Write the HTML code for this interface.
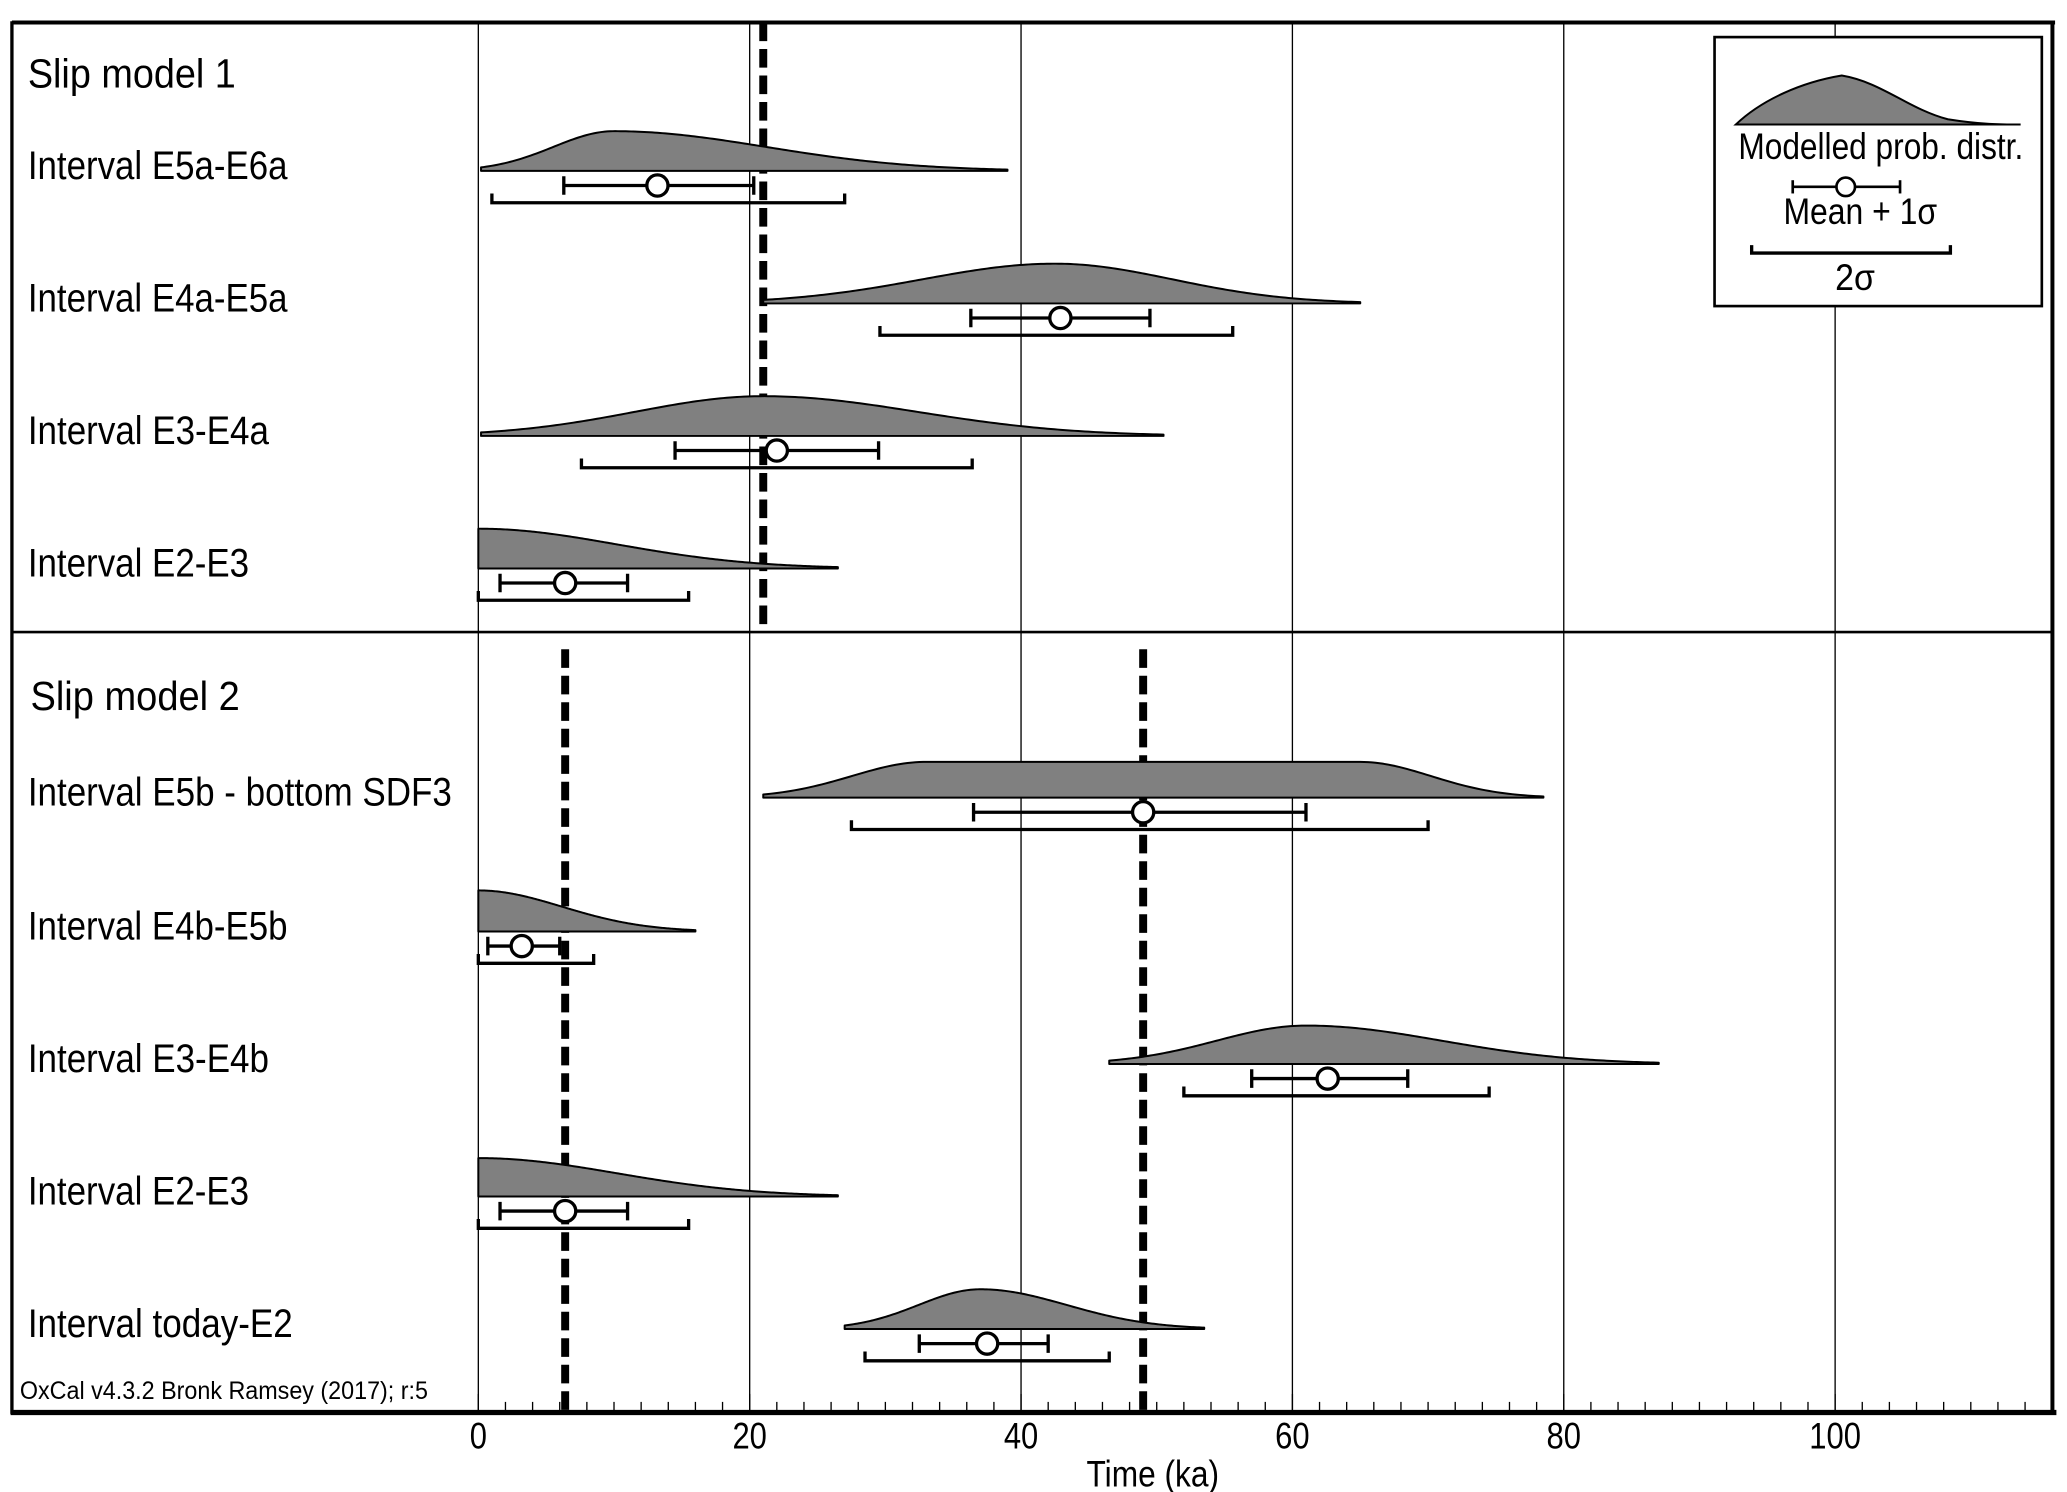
<!DOCTYPE html>
<html><head><meta charset="utf-8">
<style>
html,body{margin:0;padding:0;background:#fff;}
svg{display:block;}
text{font-family:"Liberation Sans Narrow","Liberation Sans",sans-serif;fill:#000;}
</style></head>
<body>
<svg id="chart" xmlns="http://www.w3.org/2000/svg" width="2067" height="1492" viewBox="0 0 1560 1126" preserveAspectRatio="none">
<rect x="0" y="0" width="1560" height="1126" fill="#fff"/>
<g id="grid"></g>
<g id="dash"></g>
<g id="rows"></g>
<g id="axis"></g>
<g id="legend">
  <rect x="1294" y="28" width="247" height="203" fill="#fff" stroke="#000" stroke-width="2"/>
  <path d="M1310,94 C1330,75 1360,62 1390,57 C1420,62 1440,82 1470,90 C1495,94 1510,94 1525,94 Z" fill="#808080" stroke="#000" stroke-width="1.5"/>
  <text x="1312" y="120" font-size="28" textLength="215" lengthAdjust="spacingAndGlyphs">Modelled prob. distr.</text>
  <g>
    <line x1="1353" y1="141" x2="1434" y2="141" stroke="#000" stroke-width="2"/>
    <line x1="1353" y1="136" x2="1353" y2="146" stroke="#000" stroke-width="2"/>
    <line x1="1434" y1="136" x2="1434" y2="146" stroke="#000" stroke-width="2"/>
    <circle cx="1393" cy="141" r="7" fill="#fff" stroke="#000" stroke-width="2"/>
  </g>
  <text x="1346" y="169" font-size="28" textLength="116" lengthAdjust="spacingAndGlyphs">Mean + 1σ</text>
  <path d="M1322,185 L1322,191 L1472,191 L1472,185" fill="none" stroke="#000" stroke-width="2.5"/>
  <text x="1385" y="219" font-size="28" textLength="30" lengthAdjust="spacingAndGlyphs">2σ</text>
</g>
<g>
  <line x1="9" y1="17" x2="1551" y2="17" stroke="#000" stroke-width="3"/>
  <line x1="9" y1="16" x2="9" y2="1067" stroke="#000" stroke-width="2.5"/>
  <line x1="1549" y1="16" x2="1549" y2="1067" stroke="#000" stroke-width="3"/>
  <line x1="9" y1="477" x2="1550" y2="477" stroke="#000" stroke-width="2"/>
  <line x1="8" y1="1066" x2="1552" y2="1066" stroke="#000" stroke-width="4"/>
</g>
<text x="21" y="66" font-size="31" textLength="157" lengthAdjust="spacingAndGlyphs">Slip model 1</text>
<text x="23" y="536" font-size="31" textLength="158" lengthAdjust="spacingAndGlyphs">Slip model 2</text>
<text x="15" y="1056" font-size="19" textLength="308" lengthAdjust="spacingAndGlyphs">OxCal v4.3.2 Bronk Ramsey (2017); r:5</text>
<text x="820" y="1122" font-size="28" textLength="100" lengthAdjust="spacingAndGlyphs">Time (ka)</text>
</svg>
<script>
// ---- data ----
const labels = ["Interval E5a-E6a","Interval E4a-E5a","Interval E3-E4a","Interval E2-E3","Interval E5b - bottom SDF3","Interval E4b-E5b","Interval E3-E4b","Interval E2-E3","Interval today-E2"];
const distStart = [0.2, 21, 0.2, 0, 21, 0, 46.5, 0, 27];
const distPeak  = [10, 42.5, 21, 0, 33, 0, 61, 0, 37];
const distPlateauEnd = [10, 42.5, 21, 0, 65, 0, 61, 0, 37];
const distEnd   = [39, 65, 50.5, 26.5, 78.5, 16, 87, 26.5, 53.5];
const distHeight= [30, 30, 30, 30, 27, 31, 29, 29, 30];
const means     = [13.2, 42.9, 22.0, 6.4, 49.0, 3.2, 62.6, 6.4, 37.5];
const sig1Lo    = [6.3, 36.3, 14.5, 1.6, 36.5, 0.7, 57, 1.6, 32.5];
const sig1Hi    = [20.3, 49.5, 29.5, 11, 61, 6, 68.5, 11, 42];
const sig2Lo    = [1.0, 29.6, 7.6, 0, 27.5, 0, 52, 0, 28.5];
const sig2Hi    = [27, 55.6, 36.4, 15.5, 70, 8.5, 74.5, 15.5, 46.5];
const rowBaseline = [129, 229, 329, 429, 602, 703, 803, 903, 1003];
const majorTicks = [0, 20, 40, 60, 80, 100];
const tickLabels = ["0","20","40","60","80","100"];
const model1Lines = [21];
const model2Lines = [6.4, 49];

// ---- scales ----
const X0 = 361, PX = 10.24;
const xs = v => X0 + v * PX;
const NS = "http://www.w3.org/2000/svg";
function mk(tag, attrs, parent){ const e=document.createElementNS(NS,tag); for(const k in attrs) e.setAttribute(k,attrs[k]); parent.appendChild(e); return e; }

const grid = document.getElementById('grid');
majorTicks.forEach(t=>{
  const l = mk('line',{x1:xs(t),x2:xs(t),y1:17,y2:1066,stroke:'#000','stroke-width':1},grid);
  
  
});

const axis = document.getElementById('axis');
for(let t=0;t<=116;t+=2){
  const major = t%20===0;
  const l = mk('line',{x1:xs(t),x2:xs(t),y1:major?1052:1058,y2:1066,stroke:'#000','stroke-width':1},axis);
  
  
}
majorTicks.forEach((t,i)=>{
  const w = tickLabels[i].length*13;
  const tx = mk('text',{x:xs(t),y:1093,'font-size':28,'text-anchor':'middle',textLength:w,lengthAdjust:'spacingAndGlyphs'},axis);
  tx.textContent = tickLabels[i];
  
  
});

const dash = document.getElementById('dash');
model1Lines.forEach(v=>{
  const l = mk('line',{x1:xs(v),x2:xs(v),y1:17,y2:477,stroke:'#000','stroke-width':6,'stroke-dasharray':'14 6'},dash);
  
  
});
model2Lines.forEach(v=>{
  const l = mk('line',{x1:xs(v),x2:xs(v),y1:490,y2:1066,stroke:'#000','stroke-width':6,'stroke-dasharray':'14 6'},dash);
  
  
});

const labelWidths = [196,196,182,167,320,196,182,167,200];
const rows = document.getElementById('rows');
labels.forEach((lab,i)=>{
  const g = mk('g',{},rows);
  
  
  const by = rowBaseline[i];
  const t = mk('text',{x:21,y:by+6,'font-size':30,textLength:labelWidths[i],lengthAdjust:'spacingAndGlyphs'},g);
  t.textContent = lab;
  
  
  const s=distStart[i], p=distPeak[i], pe=distPlateauEnd[i], e=distEnd[i], h=distHeight[i];
  const sl=(p-s)/2.2, sr=(e-pe)/2.6;
  let d = 'M'+xs(s)+','+by;
  const N=200;
  for(let k=0;k<=N;k++){
    const v = s + (e-s)*k/N;
    let f;
    if(v<p) f = sl>0 ? Math.exp(-0.5*Math.pow((v-p)/sl,2)) : 1;
    else if(v<=pe) f = 1;
    else f = Math.exp(-0.5*Math.pow((v-pe)/sr,2));
    d += ' L'+xs(v).toFixed(2)+','+(by - h*f).toFixed(2);
  }
  d += ' L'+xs(e)+','+by+' Z';
  const path = mk('path',{d:d,fill:'#808080',stroke:'#000','stroke-width':1.5,'stroke-linejoin':'round'},g);
  
  
  const y2 = by+24;
  const b2 = mk('path',{d:'M'+xs(sig2Lo[i])+','+(y2-7)+' L'+xs(sig2Lo[i])+','+y2+' L'+xs(sig2Hi[i])+','+y2+' L'+xs(sig2Hi[i])+','+(y2-7),fill:'none',stroke:'#000','stroke-width':2.5},g);
  
  
  const y1 = by+11;
  const b1 = mk('path',{d:'M'+xs(sig1Lo[i])+','+y1+' L'+xs(sig1Hi[i])+','+y1+' M'+xs(sig1Lo[i])+','+(y1-7)+' L'+xs(sig1Lo[i])+','+(y1+7)+' M'+xs(sig1Hi[i])+','+(y1-7)+' L'+xs(sig1Hi[i])+','+(y1+7),fill:'none',stroke:'#000','stroke-width':2.5},g);
  
  
  const c = mk('circle',{cx:xs(means[i]),cy:y1,r:8,fill:'#fff',stroke:'#000','stroke-width':2.5},g);
  
  
});
</script>
</body></html>
